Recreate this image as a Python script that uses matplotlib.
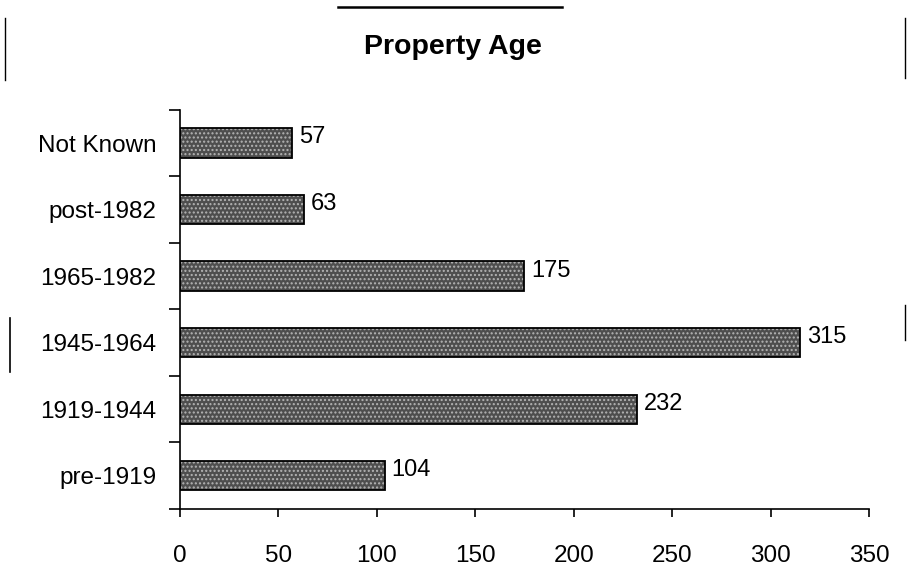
import matplotlib.pyplot as plt
from matplotlib.lines import Line2D

plt.rcParams['font.family'] = ['Liberation Sans', 'DejaVu Sans']

categories = ['pre-1919', '1919-1944', '1945-1964', '1965-1982', 'post-1982', 'Not Known']
counts = [104, 232, 315, 175, 63, 57]
x_ticks = [0, 50, 100, 150, 200, 250, 300, 350]

fig = plt.figure(figsize=(9.09, 5.87), dpi=100)
ax = fig.add_axes([0.198, 0.133, 0.758, 0.680])

pos = list(range(len(categories)))
# stippled fill first, then a plain black outline on top
ax.barh(pos, counts, height=0.44, color='#4e4e4e', edgecolor='#b4b4b4',
        hatch='....', linewidth=0, zorder=2)
ax.barh(pos, counts, height=0.44, fill=False, edgecolor='black',
        linewidth=1.3, zorder=3)

for p, v in zip(pos, counts):
    ax.annotate(str(v), (v, p), xytext=(5, 4), textcoords='offset points',
                ha='left', va='center', fontsize=17)

ax.set_xlim(0, 350)
ax.set_ylim(-0.5, len(categories) - 0.5)
ax.set_xticks(x_ticks)
ax.set_yticks(pos)
ax.set_yticklabels(categories)
ax.set_yticks([p - 0.5 for p in range(len(categories) + 1)], minor=True)

for s in ['top', 'right']:
    ax.spines[s].set_visible(False)
for s in ['left', 'bottom']:
    ax.spines[s].set_linewidth(1.2)

ax.tick_params(axis='x', direction='out', length=6, width=1.2, pad=20, labelsize=17.5)
ax.tick_params(axis='y', which='major', length=0, pad=17, labelsize=17.5)
ax.tick_params(axis='y', which='minor', direction='out', length=8, width=1.2)

fig.text(0.498, 0.920, 'Property Age', ha='center', va='center',
         fontsize=20.5, fontweight='bold')

# stray marks along the page edges
for xs, ys, lw in [([338 / 909, 562 / 909], [1 - 7 / 587, 1 - 7 / 587], 1.8),
                   ([5 / 909, 5 / 909], [1 - 18 / 587, 1 - 80 / 587], 1.0),
                   ([10 / 909, 10 / 909], [1 - 318 / 587, 1 - 372 / 587], 1.2),
                   ([905 / 909, 905 / 909], [1 - 18 / 587, 1 - 78 / 587], 1.0),
                   ([905 / 909, 905 / 909], [1 - 305 / 587, 1 - 340 / 587], 1.0)]:
    fig.add_artist(Line2D(xs, ys, color='black', linewidth=lw))

fig.savefig('out.png', dpi=100)
